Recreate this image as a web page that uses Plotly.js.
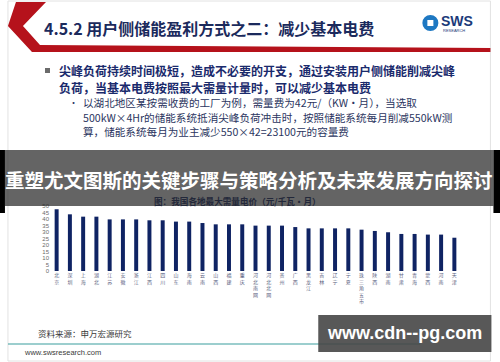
<!DOCTYPE html>
<html>
<head>
<meta charset="utf-8">
<script src="https://cdn.plot.ly/plotly-3.0.1.min.js"></script>
<style>html,body{margin:0;padding:0;background:#fff;}#chart{width:500px;height:362px;}</style>
</head>
<body>
<div id="chart"></div>
<script>
const provinces = ["北京","深圳","上海","湖北","江苏","安徽","浙江","江西","四川","山东","海南","云南","山西","福建","重庆",
  "河北南网","河北北网","贵州","广西","黑龙江","吉林","辽宁","宁夏","珠三角五市","陕西","湖南","甘肃","青海","蒙西","河南","天津"];
const demandPrice = [47.5,43.6,41.8,41.8,39.7,39.7,39.7,39,39,38,38,36.9,35.9,35.9,35.9,
  34.9,34.9,34.9,33.8,32.8,32.8,32.8,32.8,31.8,30.8,29.8,28.5,28.5,28,28,25.6];
const yTicks = [0,5,10,15,20,25,30,35,40,45,50];

const headerTitle = "4.5.2 用户侧储能盈利方式之二：减少基本电费";
const boldLines = ["尖峰负荷持续时间极短，造成不必要的开支，通过安装用户侧储能削减尖峰",
  "负荷，当基本电费按照最大需量计量时，可以减少基本电费"];
const subLines = ["以湖北地区某按需收费的工厂为例，需量费为42元/（KW·月），当选取",
  "500kW×4Hr的储能系统抵消尖峰负荷冲击时，按照储能系统每月削减550kW测",
  "算，储能系统每月为业主减少550×42=23100元的容量费"];
const chartCaption = "图：我国各地最大需量电价（元/千瓦·月）";
const overlayTitle = "重塑尤文图斯的关键步骤与策略分析及未来发展方向探讨";
const sourceText = "资料来源：申万宏源研究";
const siteText = "www.swsresearch.com";
const watermark = "www.cdn--pg.com";

const W=500,H=362,L=50,R=39.4,T=206,B=91;
const pw=W-L-R, ph=H-T-B;
const fx = p => (p-L)/pw;
const fy = p => (H-B-p)/ph;
const CJK = '"Noto Sans CJK SC", "Noto Sans", sans-serif';

function rect(x0,y0,x1,y1,fill,line,layer){
  return {type:'rect',xref:'paper',yref:'paper',x0:fx(x0),x1:fx(x1),y0:fy(y0),y1:fy(y1),
    fillcolor:fill,line:line||{width:0},layer:layer||'above'};
}
function pathShape(pts,fill,layer){
  const d = pts.map((p,i)=>(i?'L':'M')+fx(p[0])+','+fy(p[1])).join(' ')+' Z';
  return {type:'path',xref:'paper',yref:'paper',path:d,fillcolor:fill,line:{width:0},layer:layer||'above'};
}
function txt(x,y,text,size,color,opts){
  opts=opts||{};
  return {xref:'paper',yref:'paper',x:fx(x),y:fy(y),text:text,showarrow:false,
    xanchor:opts.xanchor||'left',yanchor:'middle',
    font:{family:opts.family||CJK,size:size,color:color,weight:opts.weight||'normal'}};
}

const shapes = [
  rect(8,1,490,361,'rgba(0,0,0,0)',{color:'#e2e2e2',width:1},'below'),
  pathShape([[8,26],[16,2],[46,2],[23,26],[40,45],[490,48],[490,52],[32,52]],'#b5121b','below'),
  {type:'circle',xref:'paper',yref:'paper',x0:fx(422),x1:fx(438),y0:fy(31),y1:fy(15),fillcolor:'#1e78c2',line:{width:0},layer:'below'},
  rect(427,20,433,26,'#ffffff',null,'below'),
  rect(45,68,50,73,'#6b6b6b',null,'below'),
  {type:'line',xref:'paper',yref:'paper',x0:fx(8),x1:fx(420),y0:fy(344),y1:fy(344),line:{color:'#3a9e9e',width:1.2},layer:'below'},
  rect(5,150,493,206,'rgba(40,40,40,0.72)'),
  rect(0,150,5,213,'#000000'),
  rect(493,150,500,213,'#000000'),
  rect(318,315,491,352,'rgba(70,70,70,0.9)')
];

const annotations = [
  txt(42,28,headerTitle,16,'#1b2a5c',{weight:'bold'}),
  txt(439,21,'SWS',14,'#1b3a7a',{weight:'bold',family:'"Liberation Sans", Arial, sans-serif'}),
  txt(441,30,'RESEARCH',4,'#1b3a7a',{family:'"Liberation Sans", Arial, sans-serif'}),
  txt(57,70.5,boldLines[0],12,'#1a2a6c',{weight:'bold'}),
  txt(57,87.5,boldLines[1],12,'#1a2a6c',{weight:'bold'}),
  txt(67,103,'•',9,'#2b3560'),
  txt(81,103,subLines[0],10.6,'#2b3560'),
  txt(81,117,subLines[1],10.6,'#2b3560'),
  txt(81,131,subLines[2],10.6,'#2b3560'),
  txt(152,200.5,chartCaption,8.6,'#23283a',{weight:'bold'}),
  txt(249,179,overlayTitle,19.5,'#ffffff',{weight:'bold',xanchor:'center'}),
  txt(36,333,sourceText,8.5,'#3a3a3a'),
  txt(22,352,siteText,7.5,'#3a3a3a',{family:'"Liberation Sans", Arial, sans-serif'}),
  txt(404,333,watermark,18,'#ffffff',{weight:'bold',xanchor:'center',family:'"Liberation Sans", Arial, sans-serif'})
];

const trace = {
  type:'bar', x:provinces, y:demandPrice, width:0.3,
  marker:{color:'#0f2363',line:{width:0}}, hoverinfo:'skip'
};

const layout = {
  width:W,height:H,
  margin:{l:L,r:R,t:T,b:B,pad:0},
  paper_bgcolor:'#ffffff',plot_bgcolor:'#ffffff',
  showlegend:false,
  xaxis:{type:'category',tickvals:provinces,ticktext:provinces.map(s=>s.split('').join('<br>')),
    tickangle:0,tickfont:{family:CJK,size:5,color:'#5d6382'},showgrid:false,zeroline:false,showline:false,ticks:'',fixedrange:true},
  yaxis:{range:[0,50],tickvals:yTicks,tickfont:{family:'"Liberation Sans", Arial, sans-serif',size:6,color:'#6a6a6a'},
    showgrid:false,zeroline:false,showline:false,ticks:'',fixedrange:true},
  shapes:shapes,
  annotations:annotations
};

Plotly.newPlot('chart',[trace],layout,{staticPlot:true,displayModeBar:false});
</script>
</body>
</html>
